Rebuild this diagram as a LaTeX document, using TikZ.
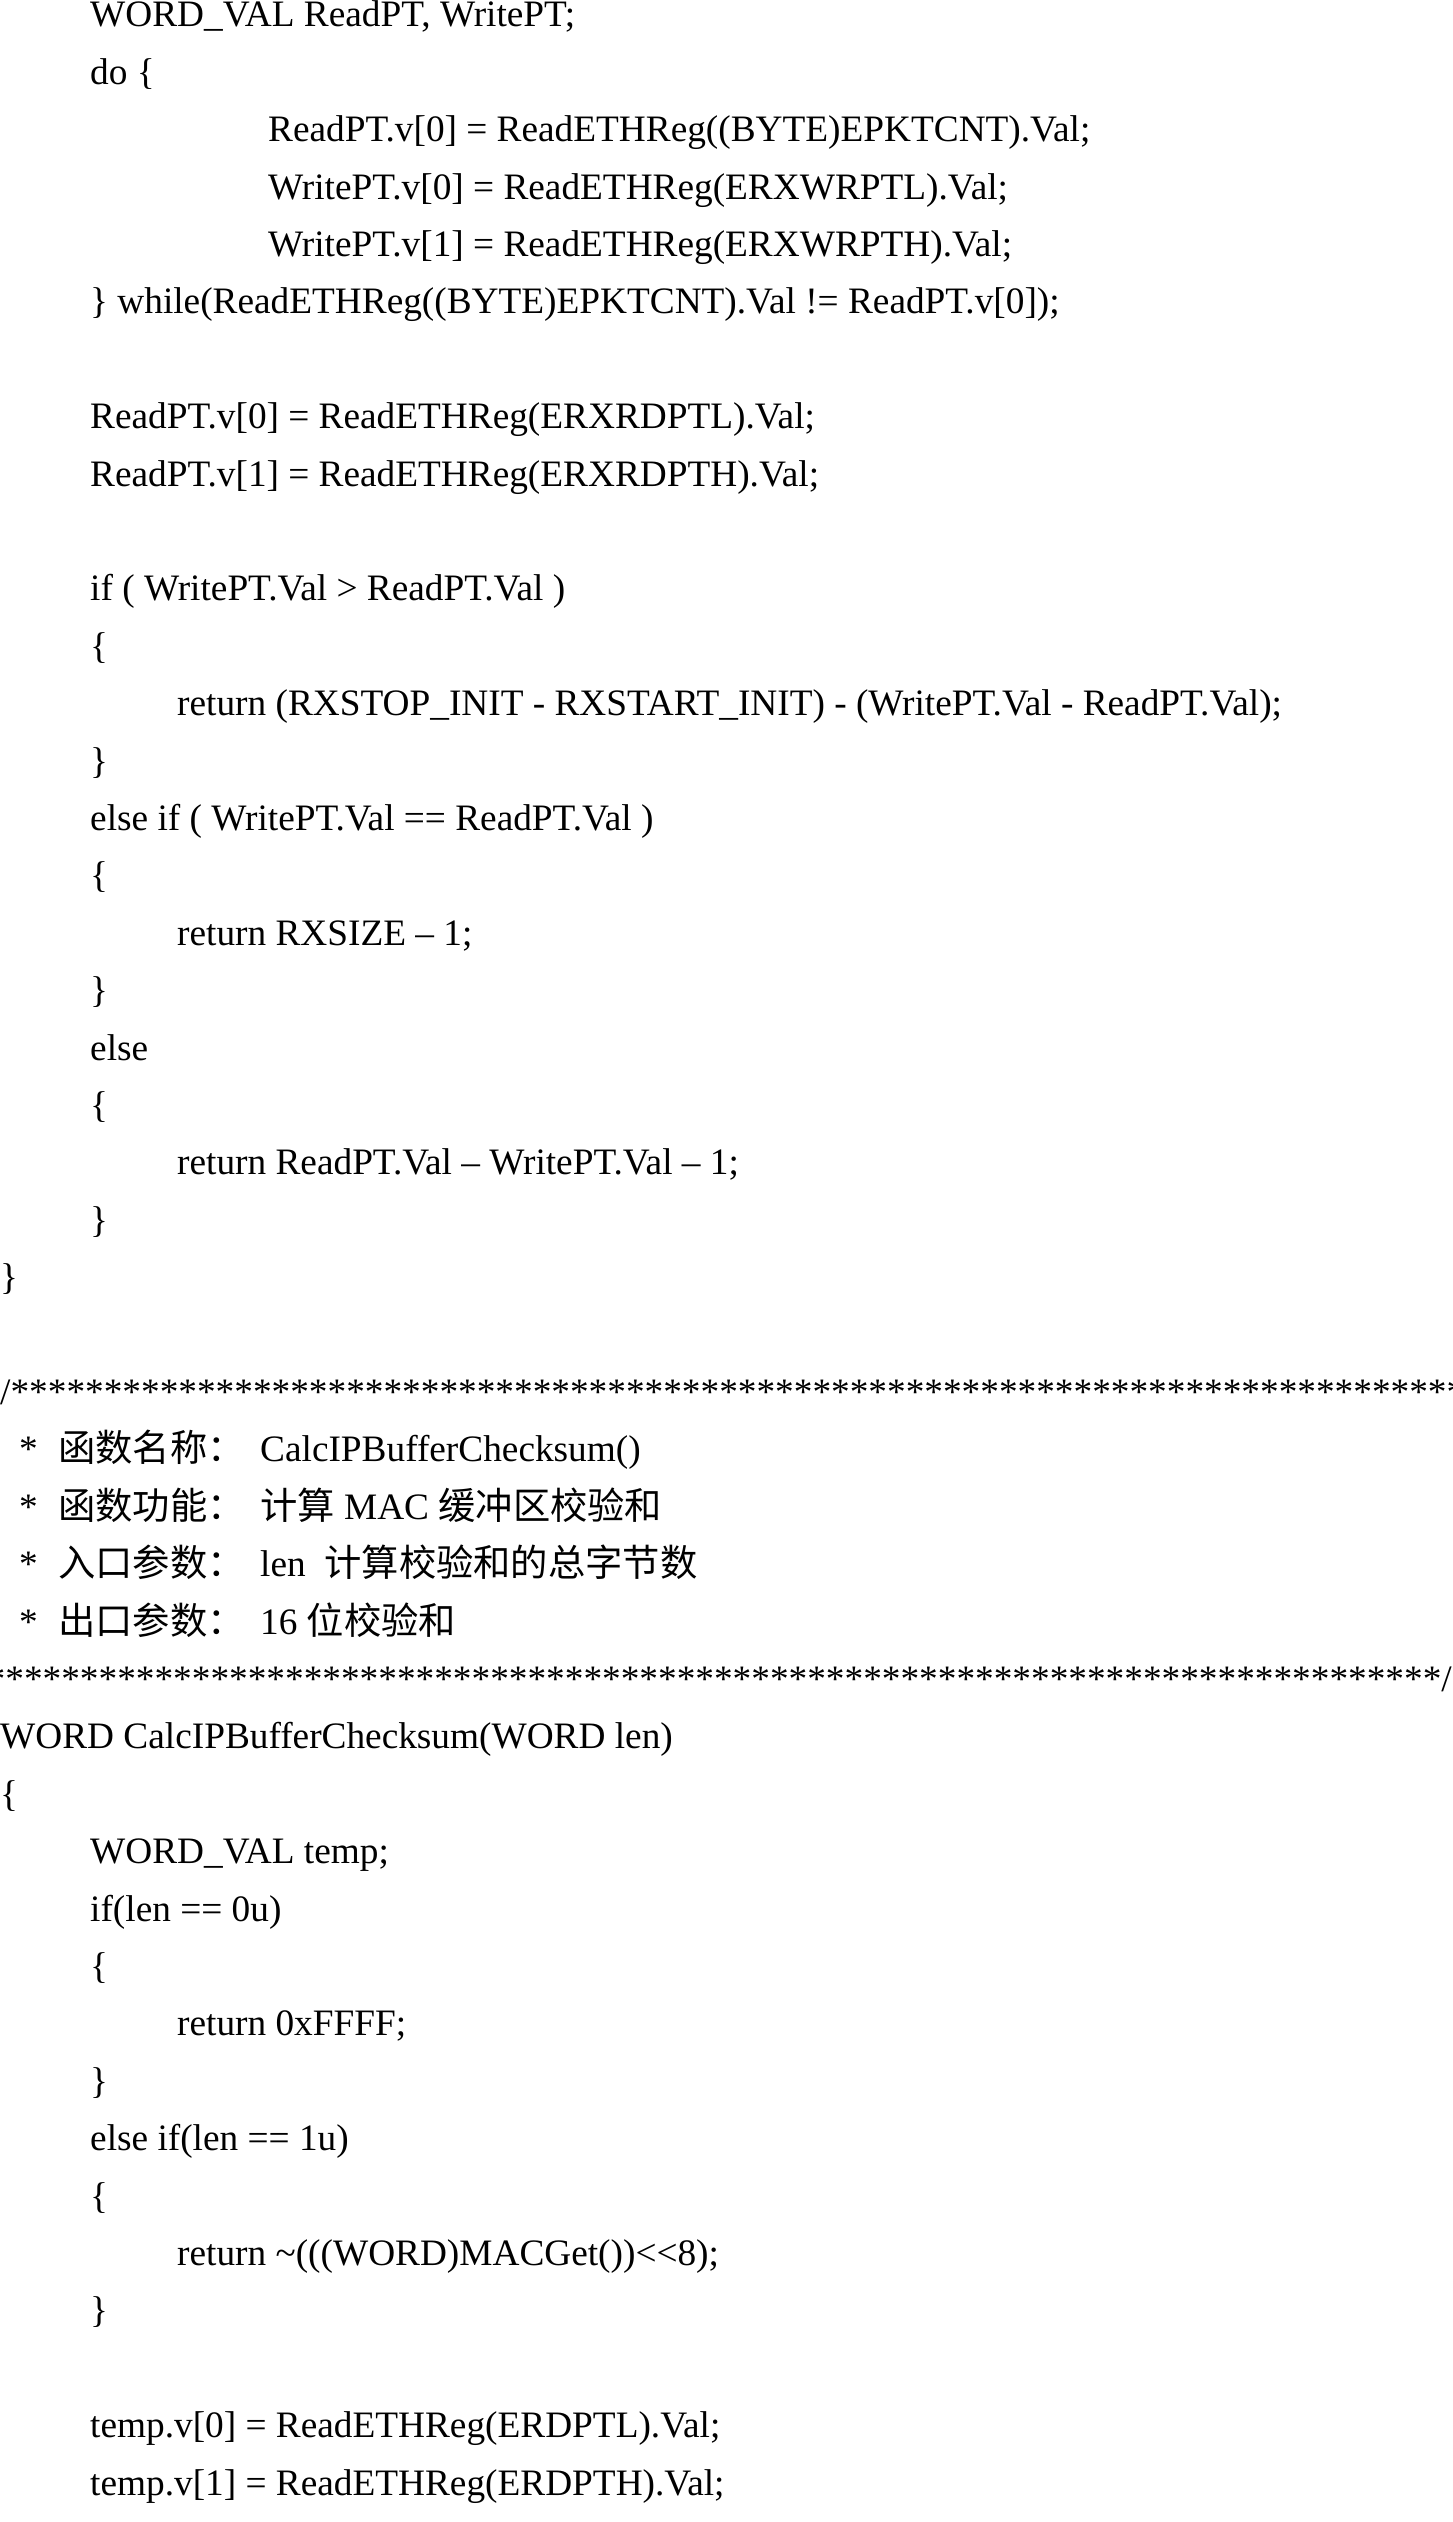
\documentclass[tikz,border=0pt]{standalone}
\usepackage{fontspec}
\setmainfont{Liberation Serif}
\newfontfamily\cjk{Noto Sans CJK SC}
\newcommand\cl[3]{\node[codeline] at (#2, {2495-57.4*#1}) {#3};}
\begin{document}
\begin{tikzpicture}[x=1pt,y=1pt,codeline/.style={anchor=base west,inner sep=0pt,font=\fontsize{37.3}{44}\selectfont}]
\clip (0,0) rectangle (1452,2522);
\fill[white] (0,0) rectangle (1452,2522);
\cl{0}{90}{WORD\_VAL ReadPT, WritePT;}
\cl{1}{90}{do \{}
\cl{2}{268}{ReadPT.v[0] = ReadETHReg((BYTE)EPKTCNT).Val;}
\cl{3}{268}{WritePT.v[0] = ReadETHReg(ERXWRPTL).Val;}
\cl{4}{268}{WritePT.v[1] = ReadETHReg(ERXWRPTH).Val;}
\cl{5}{90}{\} while(ReadETHReg((BYTE)EPKTCNT).Val != ReadPT.v[0]);}
\cl{7}{90}{ReadPT.v[0] = ReadETHReg(ERXRDPTL).Val;}
\cl{8}{90}{ReadPT.v[1] = ReadETHReg(ERXRDPTH).Val;}
\cl{10}{90}{if ( WritePT.Val > ReadPT.Val )}
\cl{11}{90}{\{}
\cl{12}{177}{return (RXSTOP\_INIT - RXSTART\_INIT) - (WritePT.Val - ReadPT.Val);}
\cl{13}{90}{\}}
\cl{14}{90}{else if ( WritePT.Val == ReadPT.Val )}
\cl{15}{90}{\{}
\cl{16}{177}{return RXSIZE – 1;}
\cl{17}{90}{\}}
\cl{18}{90}{else}
\cl{19}{90}{\{}
\cl{20}{177}{return ReadPT.Val – WritePT.Val – 1;}
\cl{21}{90}{\}}
\cl{22}{0}{\}}
\cl{24}{0}{/*****************************************************************************************}
\cl{25}{19}{*}
\cl{25}{58}{\cjk 函数名称：}
\cl{25}{260}{CalcIPBufferChecksum()}
\cl{26}{19}{*}
\cl{26}{58}{\cjk 函数功能：}
\cl{26}{260}{{\cjk 计算} MAC {\cjk 缓冲区校验和}}
\cl{27}{19}{*}
\cl{27}{58}{\cjk 入口参数：}
\cl{27}{260}{len\ \ {\cjk 计算校验和的总字节数}}
\cl{28}{19}{*}
\cl{28}{58}{\cjk 出口参数：}
\cl{28}{260}{16 {\cjk 位校验和}}
\node[codeline,anchor=base east] at (1452,{2495-57.4*29}) {*****************************************************************************************/};
\cl{30}{0}{WORD CalcIPBufferChecksum(WORD len)}
\cl{31}{0}{\{}
\cl{32}{90}{WORD\_VAL temp;}
\cl{33}{90}{if(len == 0u)}
\cl{34}{90}{\{}
\cl{35}{177}{return 0xFFFF;}
\cl{36}{90}{\}}
\cl{37}{90}{else if(len == 1u)}
\cl{38}{90}{\{}
\cl{39}{177}{return \textasciitilde(((WORD)MACGet())<{}<8);}
\cl{40}{90}{\}}
\cl{42}{90}{temp.v[0] = ReadETHReg(ERDPTL).Val;}
\cl{43}{90}{temp.v[1] = ReadETHReg(ERDPTH).Val;}
\end{tikzpicture}
\end{document}
